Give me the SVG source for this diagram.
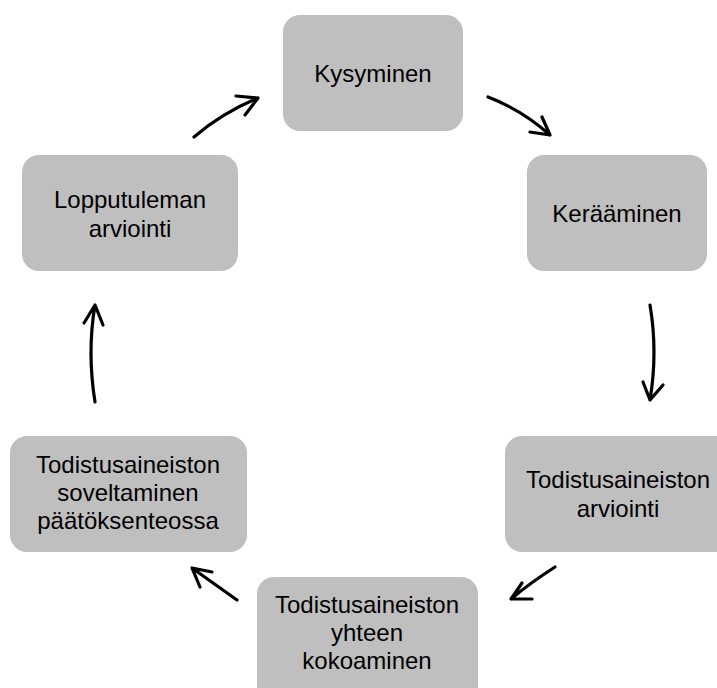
<svg xmlns="http://www.w3.org/2000/svg" width="717" height="688" viewBox="0 0 717 688">
<style>
.box{fill:#bfbfbf}
.t{font-family:"Liberation Sans",Arial,sans-serif;font-size:24px;fill:#000;text-anchor:middle}
.c{fill:none;stroke:#000;stroke-width:3.2;stroke-linecap:round;stroke-linejoin:round}
</style>
<rect width="717" height="688" fill="#fff"/>
<g id="kysyminen"><rect class="box" x="283" y="15" width="180" height="116" rx="17"/><text class="t" x="373" y="82">Kysyminen</text></g>
<g id="keraaminen"><rect class="box" x="527" y="155" width="180" height="116" rx="17"/><text class="t" x="617" y="222">Kerääminen</text></g>
<g id="lopputuleman"><rect class="box" x="22" y="155" width="216" height="116" rx="17"/><text class="t" x="130" y="208">Lopputuleman</text><text class="t" x="130" y="237">arviointi</text></g>
<g id="arviointi"><rect class="box" x="505" y="436" width="230" height="116" rx="17"/><text class="t" x="618" y="488">Todistusaineiston</text><text class="t" x="618" y="517">arviointi</text></g>
<g id="soveltaminen"><rect class="box" x="10" y="436" width="237" height="116" rx="17"/><text class="t" x="128" y="473">Todistusaineiston</text><text class="t" x="128" y="501">soveltaminen</text><text class="t" x="128" y="529">päätöksenteossa</text></g>
<g id="kokoaminen"><rect class="box" x="257" y="577" width="221" height="130" rx="17"/><text class="t" x="367" y="613">Todistusaineiston</text><text class="t" x="367" y="641">yhteen</text><text class="t" x="367" y="669">kokoaminen</text></g>
<g id="connectors">
<path class="c" d="M194,137 Q222,113 258,98 M236,96 L258,98 L245,115"/>
<path class="c" d="M488,97 Q522,110 550,135 M530,132 L550,135 L542,117"/>
<path class="c" d="M650,305 Q658,352 650,400 M643,382 L650,400 L663,385"/>
<path class="c" d="M555,567 Q530,583 511,599 M522,583 L511,599 L532,599"/>
<path class="c" d="M237,600 Q213,583 192,568 M212,572 L192,568 L200,587"/>
<path class="c" d="M95,402 Q87,352 95,305 M84,323 L95,305 L103,325"/>
</g>
</svg>
